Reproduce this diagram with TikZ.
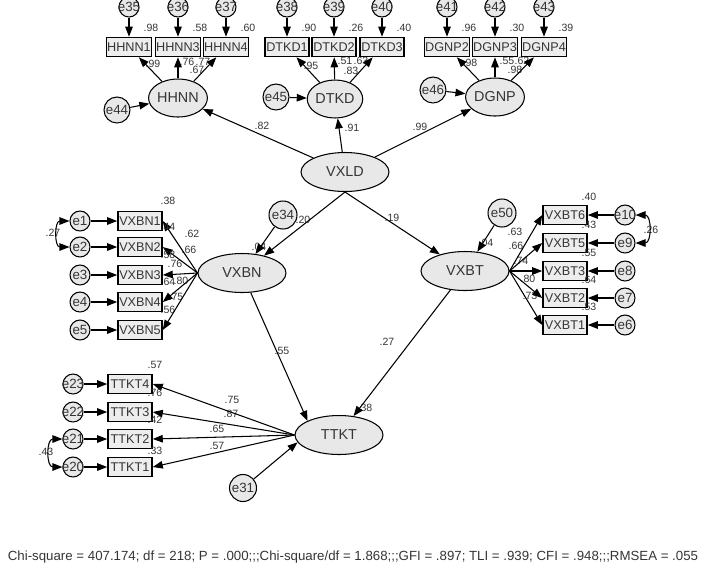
\documentclass[tikz,border=0pt]{standalone}
\usepackage{fontspec}
\setmainfont{Liberation Sans}
\usetikzlibrary{arrows.meta,shapes.geometric}
\definecolor{semfill}{HTML}{E8E8E8}
\definecolor{semtext}{HTML}{353535}
\tikzset{
  lat/.style={ellipse, draw, fill=semfill, text=semtext, line width=0.6pt,
    minimum width=1.76cm, minimum height=0.78cm, inner sep=0pt,
    font=\fontsize{8.2}{9}\selectfont},
  latsm/.style={lat, minimum width=1.08cm, minimum height=0.76cm},
  obs/.style={rectangle, draw, fill=semfill!80, text=semtext, line width=0.9pt,
    minimum width=0.88cm, minimum height=0.38cm, inner sep=0.3pt,
    font=\fontsize{7.2}{8}\selectfont},
  res/.style={circle, draw, fill=semfill, text=semtext, line width=0.6pt,
    minimum size=#1, inner sep=0pt, font=\fontsize{7.6}{8}\selectfont},
  res/.default=0.4cm,
  val/.style={inner sep=0pt, text=semtext, font=\fontsize{6}{7}\selectfont},
  arr/.style={-{Triangle[length=2mm,width=1.5mm]}, line width=0.6pt},
  cov/.style={{Triangle[length=2mm,width=1.5mm]}-{Triangle[length=2mm,width=1.5mm]},
    line width=0.6pt},
}
\newcommand{\resnode}[4]{\node[res=#4] (#1) at (#2,#3) {\makebox[0pt]{#1}};}

\begin{document}
\begin{tikzpicture}[x=0.02cm, y=-0.02cm]
\useasboundingbox (0,0) rectangle (710,583);
% latent variables
\node[lat] (VXLD) at (345,172) {VXLD};
\node[latsm] (HHNN) at (178,98) {HHNN};
\node[latsm] (DTKD) at (335,99) {DTKD};
\node[latsm] (DGNP) at (495,97) {DGNP};
\node[lat] (VXBN) at (242,273) {VXBN};
\node[lat] (VXBT) at (465,271) {VXBT};
\node[lat] (TTKT) at (339,435) {TTKT};

% path values
\foreach \v/\x/\y [count=\k] in {.99/153/64, .76/187/62, .77/203/62, .67/197/70,
  .95/311/66, .51/345/61, .63/361/61, .83/351/71,
  .98/470/63, .55/507/61, .62/522/61, .98/515/70,
  .82/262/126, .91/352/128, .99/420/127,
  .20/303/220, .04/259/247, .19/392/218, .04/486/243,
  .62/192/234, .66/189/250, .76/175/264, .80/181/281, .75/176/297,
  .63/515/232, .66/516/246, .74/521/261, .80/528/279, .73/530/296,
  .75/232/400, .87/231/414, .65/217/429, .57/217/446,
  .55/282/351, .27/387/342, .38/365/408,
  .27/53/233, .26/651/230, .43/46/452}{
  \node[val] (l\k) at (\x,\y) {\v};
}

% indicators of the three upper factors
\foreach \lat/\n/\x/\er/\rsq in {HHNN/HHNN1/129/e35/.98, HHNN/HHNN3/178/e36/.58,
  HHNN/HHNN4/226/e37/.60, DTKD/DTKD1/287/e38/.90, DTKD/DTKD2/334/e39/.26,
  DTKD/DTKD3/382/e40/.40, DGNP/DGNP2/447/e41/.96, DGNP/DGNP3/495/e42/.30,
  DGNP/DGNP4/544/e43/.39}{
  \node[obs] (\n) at (\x,47) {\n};
  \resnode{\er}{\x}{7}{0.4cm}
  \node[val] (r\n) at ({\x+22},28) {\rsq};
  \draw[arr] (\er) -- (\n);
  \draw[arr] (\lat) -- (\n);
}
\resnode{e44}{117}{110}{0.52cm}
\resnode{e45}{276}{97}{0.52cm}
\resnode{e46}{433}{90}{0.52cm}
\draw[arr] (e44) -- (HHNN);
\draw[arr] (e45) -- (DTKD);
\draw[arr] (e46) -- (DGNP);
\draw[arr] (VXLD) -- (HHNN);
\draw[arr] (VXLD) -- (DTKD);
\draw[arr] (VXLD) -- (DGNP);

% VXBN
\foreach \i/\y/\rsq in {1/221/.38, 2/247/.44, 3/275/.58, 4/302/.64, 5/330/.56}{
  \node[obs] (VXBN\i) at (140,\y) {VXBN\i};
  \resnode{e\i}{80}{\y}{0.4cm}
  \node[val] (rVXBN\i) at (168,{\y-20}) {\rsq};
  \draw[arr] (e\i) -- (VXBN\i);
  \draw[arr] (VXBN.west) -- (VXBN\i.east);
}
\draw[cov] (e1.west) to[out=180,in=180,looseness=1.5] (e2.west);

% VXBT
\foreach \i/\y/\er/\rsq in {6/215/e10/.40, 5/243/e9/.43, 3/271/e8/.55, 2/298/e7/.64,
  1/325/e6/.53}{
  \node[obs] (VXBT\i) at (565,\y) {VXBT\i};
  \resnode{\er}{625}{\y}{0.4cm}
  \node[val] (rVXBT\i) at (589,{\y-18}) {\rsq};
  \draw[arr] (\er) -- (VXBT\i);
  \draw[arr] (VXBT.east) -- (VXBT\i.west);
}
\draw[cov] (e10.east) to[out=0,in=0,looseness=1.5] (e9.east);

% TTKT
\foreach \i/\y/\er/\rsq/\ry in {4/384/e23/.57/365, 3/412/e22/.76/393,
  2/439/e21/.42/420, 1/467/e20/.33/451}{
  \node[obs] (TTKT\i) at (130,\y) {TTKT\i};
  \resnode{\er}{73}{\y}{0.4cm}
  \node[val] (rTTKT\i) at (155,\ry) {\rsq};
  \draw[arr] (\er) -- (TTKT\i);
  \draw[arr] (TTKT.west) -- (TTKT\i.east);
}
\draw[cov] (e21.west) to[out=180,in=180,looseness=1.5] (e20.west);

% structural part
\resnode{e34}{283}{215}{0.56cm}
\resnode{e50}{502}{213}{0.56cm}
\resnode{e31}{243}{488}{0.54cm}
\draw[arr] (VXLD.south) -- (VXBN);
\draw[arr] (VXLD.south) -- (VXBT);
\draw[arr] (e34) -- (VXBN);
\draw[arr] (e50) -- (VXBT);
\draw[arr] (VXBN) -- (TTKT.north west);
\draw[arr] (VXBT) -- (TTKT);
\draw[arr] (e31) -- (TTKT.190);

\node[text=semtext, font=\fontsize{7.55}{9}\selectfont] (fit) at (353,557)
  {Chi-square = 407.174; df = 218; P = .000;;;Chi-square/df = 1.868;;;GFI = .897; TLI = .939; CFI = .948;;;RMSEA = .055};
\end{tikzpicture}
\end{document}
